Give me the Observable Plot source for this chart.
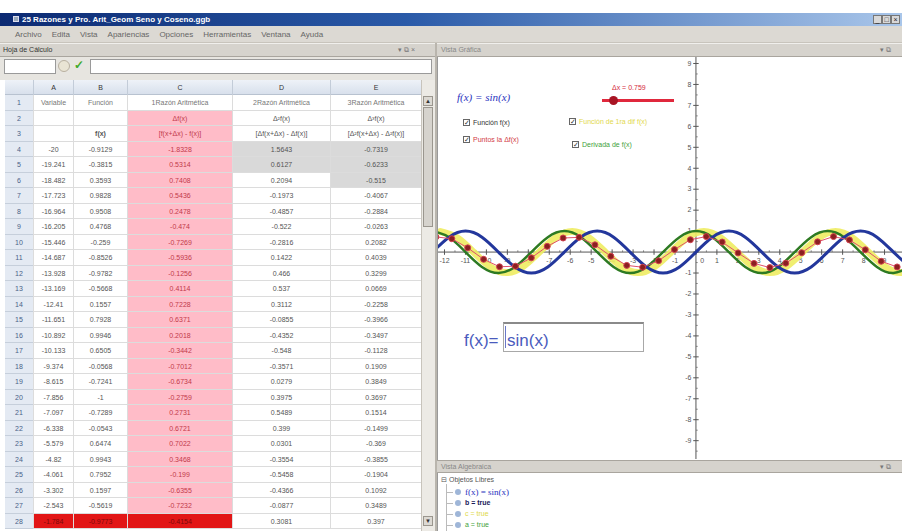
<!DOCTYPE html>
<html><head><meta charset="utf-8">
<script src="https://cdn.jsdelivr.net/npm/d3@7"></script>
<script src="https://cdn.jsdelivr.net/npm/@observablehq/plot@0.6"></script>
<style>
html,body{margin:0;padding:0;background:#fff;}
body{width:902px;height:531px;overflow:hidden;position:relative;font-family:"Liberation Sans",Arial,sans-serif;}
.a{position:absolute;box-sizing:border-box;white-space:nowrap;}
#graph svg{overflow:hidden;display:block;}
</style></head>
<body>
<script>
// ---------------- DATA ----------------
const windowTitle = "25 Razones y Pro. Arit_Geom Seno y Coseno.ggb";
const menus = ["Archivo","Edita","Vista","Apariencias","Opciones","Herramientas","Ventana","Ayuda"];
const sheetTitle = "Hoja de Cálculo";
const graphTitle = "Vista Gráfica";
const algebraTitle = "Vista Algebraica";
const sheetColumns = ["A","B","C","D","E"];
const header1 = ["Variable","Función","1Razón Aritmética","2Razón Aritmética","3Razón  Aritmética"];
const header2 = ["","","Δf(x)","Δ²f(x)","Δ³f(x)"];
const header3 = ["","f(x)","[f(x+Δx) - f(x)]","[Δf(x+Δx) - Δf(x)]","[Δ²f(x+Δx) - Δ²f(x)]"];
const colA = [-20,-19.241,-18.482,-17.723,-16.964,-16.205,-15.446,-14.687,-13.928,-13.169,-12.41,-11.651,-10.892,-10.133,-9.374,-8.615,-7.856,-7.097,-6.338,-5.579,-4.82,-4.061,-3.302,-2.543,-1.784];
const colB = [-0.9129,-0.3815,0.3593,0.9828,0.9508,0.4768,-0.259,-0.8526,-0.9782,-0.5668,0.1557,0.7928,0.9946,0.6505,-0.0568,-0.7241,-1,-0.7289,-0.0543,0.6474,0.9943,0.7952,0.1597,-0.5619,-0.9773];
const colC = [-1.8328,0.5314,0.7408,0.5436,0.2478,-0.474,-0.7269,-0.5936,-0.1256,0.4114,0.7228,0.6371,0.2018,-0.3442,-0.7012,-0.6734,-0.2759,0.2731,0.6721,0.7022,0.3468,-0.199,-0.6355,-0.7232,-0.4154];
const colD = [1.5643,0.6127,0.2094,-0.1973,-0.4857,-0.522,-0.2816,0.1422,0.466,0.537,0.3112,-0.0855,-0.4352,-0.548,-0.3571,0.0279,0.3975,0.5489,0.399,0.0301,-0.3554,-0.5458,-0.4366,-0.0877,0.3081];
const colE = [-0.7319,-0.6233,-0.515,-0.4067,-0.2884,-0.0263,0.2082,0.4039,0.3299,0.0669,-0.2258,-0.3966,-0.3497,-0.1128,0.1909,0.3849,0.3697,0.1514,-0.1499,-0.369,-0.3855,-0.1904,0.1092,0.3489,0.397];
const extraPointX = [-1.025,-0.266,0.493,1.252,2.011,2.77,3.529,4.288,5.047,5.806,6.565,7.324,8.083,8.842,9.601];
const extraPointY = [0.12,0.59,0.74,0.48,-0.04,-0.54,-0.74,-0.53,-0.03,0.49,0.74,0.58,0.11,-0.44,-0.71];
// curves (eighth-period points)
const curveX = [-12.566,-11.781,-10.996,-10.21,-9.425,-8.639,-7.854,-7.069,-6.283,-5.498,-4.712,-3.927,-3.142,-2.356,-1.571,-0.785,0,0.785,1.571,2.356,3.142,3.927,4.712,5.498,6.283,7.069,7.854,8.639,9.425,10.21];
const sinY = [0,0.71,1,0.71,0,-0.71,-1,-0.71,0,0.71,1,0.71,0,-0.71,-1,-0.71,0,0.71,1,0.71,0,-0.71,-1,-0.71,0,0.71,1,0.71,0,-0.71];
const cosY = [1,0.71,0,-0.71,-1,-0.71,0,0.71,1,0.71,0,-0.71,-1,-0.71,0,0.71,1,0.71,0,-0.71,-1,-0.71,0,0.71,1,0.71,0,-0.71,-1,-0.71];
const difX = [-12.186,-11.401,-10.616,-9.83,-9.045,-8.259,-7.474,-6.689,-5.903,-5.118,-4.332,-3.547,-2.762,-1.976,-1.191,-0.405,0.38,1.165,1.951,2.736,3.522,4.307,5.092,5.878,6.663,7.449,8.234,9.019,9.805,10.59];
const difY = [0.98,0.69,0,-0.69,-0.98,-0.69,0,0.69,0.98,0.69,0,-0.69,-0.98,-0.69,0,0.69,0.98,0.69,0,-0.69,-0.98,-0.69,0,0.69,0.98,0.69,0,-0.69,-0.98,-0.69];
const xTicks = [-12,-11,-10,-9,-8,-7,-6,-5,-4,-3,-2,-1,0,1,2,3,4,5,6,7,8,9];
const yTicks = [-9,-8,-7,-6,-5,-4,-3,-2,-1,0,1,2,3,4,5,6,7,8,9];
const sliderLabel = "Δx = 0.759";
const checkLabels = ["Función f(x)","Puntos la Δf(x)","Función de 1ra dif f(x)","Derivada de f(x)"];
const formulaText = "f(x) = sin(x)";
const inputLabel = "f(x)=";
const inputValue = "sin(x)";
const algebraHeader = "Objetos Libres";
const algebraItems = ["f(x) = sin(x)","b = true","c = true","a = true"];

// ---------------- LAYOUT ----------------
function el(css, text, parent){
  const d=document.createElement("div"); d.className="a"; d.style.cssText=css;
  if(text!==undefined) d.textContent=text; (parent||document.body).appendChild(d); return d;
}
// title bar
el("left:0;top:13px;width:902px;height:13px;background:linear-gradient(90deg,#0c2a72 0%,#2a5aa8 45%,#a9c6ea 100%);");
el("left:13px;top:16px;width:6px;height:6px;background:#9ab;border:1px solid #dde;");
el("left:22px;top:13px;height:13px;line-height:13px;font-size:8px;font-weight:bold;color:#fff;", windowTitle);
["_","□","×"].forEach((s,i)=>el(`left:${873+i*9}px;top:15px;width:9px;height:9px;background:#d8d8d8;border:1px solid #777;font-size:7px;line-height:7px;text-align:center;color:#222;`, s));
// menu bar
el("left:0;top:26px;width:902px;height:17px;background:#dcd9d3;border-bottom:1px solid #c8c4bc;");
const mb = el("left:15px;top:26px;height:17px;display:flex;gap:10px;line-height:17px;font-size:8px;color:#666;");
menus.forEach(m=>{const s=document.createElement("span"); s.textContent=m; mb.appendChild(s);});
// panel headers
el("left:0;top:43px;width:435px;height:14px;background:#d6d3cd;border-top:1px solid #f0efec;border-bottom:1px solid #a9a59e;");
el("left:3px;top:44px;height:12px;line-height:12px;font-size:7px;color:#333;", sheetTitle);
el("left:398px;top:44px;height:12px;line-height:12px;font-size:7px;color:#777;", "▾  ⧉  ×");
el("left:435px;top:43px;width:2px;height:488px;background:#b9b5ad;");
el("left:437px;top:43px;width:465px;height:14px;background:#d6d3cd;border-top:1px solid #f0efec;border-bottom:1px solid #a9a59e;");
el("left:441px;top:44px;height:12px;line-height:12px;font-size:7px;color:#888;", graphTitle);
el("left:880px;top:44px;height:12px;line-height:12px;font-size:7px;color:#777;", "▾  ⧉");
// input bar
el("left:0;top:57px;width:435px;height:23px;background:#e7e5e0;");
el("left:4px;top:59px;width:52px;height:15px;background:#fff;border:1px solid #9a9a9a;");
el("left:58px;top:60px;width:12px;height:12px;border-radius:6px;background:#e9e4d4;border:1px solid #b8b0a0;");
el("left:74px;top:58px;height:14px;font-size:12px;line-height:14px;color:#3faa2a;font-weight:bold;", "✓");
el("left:90px;top:59px;width:342px;height:15px;background:#fff;border:1px solid #9a9a9a;");
// spreadsheet
const colEdges=[5,33,73,127,232,330,421];
const hdrTop=80, hdrH=15, rowTop=95, rowH=15.5;
el(`left:2px;top:${hdrTop}px;width:419px;height:451px;background:#fff;`);
el(`left:${colEdges[0]}px;top:${hdrTop}px;width:${colEdges[6]-colEdges[0]}px;height:${hdrH}px;background:linear-gradient(#eef2f8,#d8e0ec);border-bottom:1px solid #b8c2d0;`);
sheetColumns.forEach((c,i)=>el(`left:${colEdges[i+1]}px;top:${hdrTop}px;width:${colEdges[i+2]-colEdges[i+1]}px;height:${hdrH}px;line-height:${hdrH}px;text-align:center;font-size:7px;color:#333;border-left:1px solid #c3ccd8;`, c));
const rows=[header1,header2,header3];
for(let i=0;i<colA.length;i++) rows.push([colA[i],colB[i],colC[i],colD[i],colE[i]].map(String));
const grayCells = new Set(["4-3","5-3","4-4","5-4","6-4"]);
rows.forEach((r,ri)=>{
  const rn=ri+1, top=rowTop+ri*rowH;
  el(`left:${colEdges[0]}px;top:${top}px;width:${colEdges[1]-colEdges[0]}px;height:${rowH}px;line-height:${rowH}px;background:#e4eaf3;border-bottom:1px solid #c6cfdb;text-align:center;font-size:7px;color:#4a6288;`, String(rn));
  r.forEach((v,ci)=>{
    let bg="#fff", col="#555", fw="normal";
    if(ci===2 && rn>=2) {bg="#ffbcc8"; col="#c23a4a";}
    if(grayCells.has(rn+"-"+ci)) bg="#d9d9d9";
    if(rn===28 && ci<3) {bg="#e21616"; col="#7a0a0a";}
    if(rn===1) col="#777";
    if(rn===3 && ci===1) fw="bold";
    el(`left:${colEdges[ci+1]}px;top:${top}px;width:${colEdges[ci+2]-colEdges[ci+1]}px;height:${rowH}px;line-height:${rowH}px;background:${bg};border-bottom:1px solid #dcdcdc;border-left:1px solid #dcdcdc;text-align:center;font-size:7px;color:${col};font-weight:${fw};`, v);
  });
});
// scrollbar
el("left:421px;top:80px;width:14px;height:451px;background:#eceae5;border-left:1px solid #c8c4bc;");
el("left:423px;top:96px;width:10px;height:10px;background:#dcd9d3;border:1px solid #9a968e;font-size:6px;line-height:8px;text-align:center;color:#333;", "▲");
el("left:423px;top:107px;width:10px;height:120px;background:#d6d3cd;border:1px solid #9a968e;");
el("left:423px;top:516px;width:10px;height:10px;background:#dcd9d3;border:1px solid #9a968e;font-size:6px;line-height:8px;text-align:center;color:#333;", "▼");

// ---------------- GRAPH (Observable Plot) ----------------
const G = el("left:437px;top:57px;width:465px;height:403px;background:#fff;border-left:1px solid #999;");
G.id="graph";
const pts = d3.range(colA.length).map(i=>({x:colA[i],y:colC[i]})).concat(extraPointX.map((x,i)=>({x,y:extraPointY[i]})));
const sinPts = curveX.map((x,i)=>({x,y:sinY[i]}));
const cosPts = curveX.map((x,i)=>({x,y:cosY[i]}));
const difPts = difX.map((x,i)=>({x,y:difY[i]}));
const minor = d3.range(-24,20).map(d=>d/2).filter(d=>!Number.isInteger(d));
const chart = Plot.plot({
  width:465, height:403, margin:0,
  x:{domain:[-258/21,207/21], axis:null},
  y:{domain:[-208/21,195/21], axis:null},
  style:{background:"transparent", fontFamily:"Liberation Sans", overflow:"hidden"},
  marks:[
    Plot.ruleY([0],{stroke:"#555",strokeWidth:1}),
    Plot.ruleX([0],{stroke:"#555",strokeWidth:1}),
    Plot.link(xTicks,{x1:d=>d,x2:d=>d,y1:()=>-0.13,y2:()=>0.13,stroke:"#555"}),
    Plot.link(minor,{x1:d=>d,x2:d=>d,y1:()=>0,y2:()=>0.08,stroke:"#777"}),
    Plot.link(yTicks,{y1:d=>d,y2:d=>d,x1:()=>-0.13,x2:()=>0.13,stroke:"#555"}),
    Plot.link(minor,{y1:d=>d,y2:d=>d,x1:()=>0,x2:()=>0.08,stroke:"#777"}),
    Plot.text(xTicks.filter(d=>d!==0),{x:d=>d,y:()=>-0.42,text:d=>String(d),fontSize:7,fill:"#555"}),
    Plot.text(yTicks.filter(d=>d!==0),{x:()=>-0.22,y:d=>d,text:d=>String(d),textAnchor:"end",fontSize:7,fill:"#555"}),
    Plot.text([0],{x:()=>0.2,y:()=>-0.42,text:()=>"0",textAnchor:"start",fontSize:7,fill:"#555"}),
    Plot.line(difPts,{x:"x",y:"y",curve:"natural",stroke:"#eeec62",strokeWidth:7,strokeOpacity:0.9,clip:true}),
    Plot.line(cosPts,{x:"x",y:"y",curve:"natural",stroke:"#2d7a22",strokeWidth:2.5,clip:true}),
    Plot.line(sinPts,{x:"x",y:"y",curve:"natural",stroke:"#23379c",strokeWidth:3,clip:true}),
    Plot.line(pts,{x:"x",y:"y",stroke:"#e0506a",strokeWidth:1,clip:true}),
    Plot.dot(pts,{x:"x",y:"y",r:3,fill:"#8a2020",stroke:"#d04050",strokeWidth:1,clip:true})
  ]
});
G.appendChild(chart);

// graph overlays
el("left:457px;top:91px;font-size:11px;font-family:'Liberation Serif',serif;font-style:italic;color:#2b34c0;", formulaText);
el("left:612px;top:84px;font-size:7px;color:#d42a3a;", sliderLabel);
el("left:602px;top:99px;width:72px;height:3px;background:#e0283c;");
el("left:609px;top:96px;width:9px;height:9px;border-radius:5px;background:#a81424;");
const checkPos=[[463,119,"#333"],[463,136,"#d23a46"],[569,118,"#e2d84c"],[572,141,"#3f9f3a"]];
checkLabels.forEach((t,i)=>{
  const [x,y,c]=checkPos[i];
  el(`left:${x}px;top:${y}px;width:7px;height:7px;border:1px solid #666;background:#fff;font-size:7px;line-height:5px;text-align:center;color:#333;`, "✓");
  el(`left:${x+10}px;top:${y-1}px;font-size:7px;line-height:9px;color:${c};`, t);
});
el("left:464px;top:330px;font-size:17px;line-height:22px;color:#4a5bbd;", inputLabel);
el("left:503px;top:322px;width:141px;height:30px;border:1px solid #a8a8a8;border-top:2px solid #8a8a8a;background:#fff;");
el("left:505px;top:326px;width:1px;height:22px;background:#6a78c8;");
el("left:507px;top:330px;font-size:17px;line-height:22px;color:#4a5bbd;", inputValue);

// algebra view
el("left:437px;top:460px;width:465px;height:13px;background:#d6d3cd;border-top:1px solid #a9a59e;border-bottom:1px solid #a9a59e;");
el("left:441px;top:461px;height:11px;line-height:11px;font-size:7px;color:#888;", algebraTitle);
el("left:880px;top:461px;height:11px;line-height:11px;font-size:7px;color:#777;", "▾  ⧉");
el("left:437px;top:473px;width:465px;height:58px;background:#fff;border-left:1px solid #999;");
el("left:441px;top:475px;font-size:7px;line-height:9px;color:#555;", "⊟ " + algebraHeader);
el("left:446px;top:484px;width:1px;height:47px;background:#bbb;");
const algColors=["#2b34c0","#1a1a5a","#e0d84a","#3f9f3a"];
algebraItems.forEach((t,i)=>{
  const y=492+i*11;
  el(`left:447px;top:${y}px;width:6px;height:1px;background:#bbb;`);
  el(`left:455px;top:${y-3}px;width:6px;height:6px;border-radius:3px;background:#9fb6d8;`);
  el(`left:465px;top:${y-5}px;font-size:${i===0?9:7}px;line-height:10px;color:${algColors[i]};font-weight:${i===1?'bold':'normal'};font-family:${i===0?"'Liberation Serif',serif":"inherit"};`, t);
});
</script>
</body></html>
